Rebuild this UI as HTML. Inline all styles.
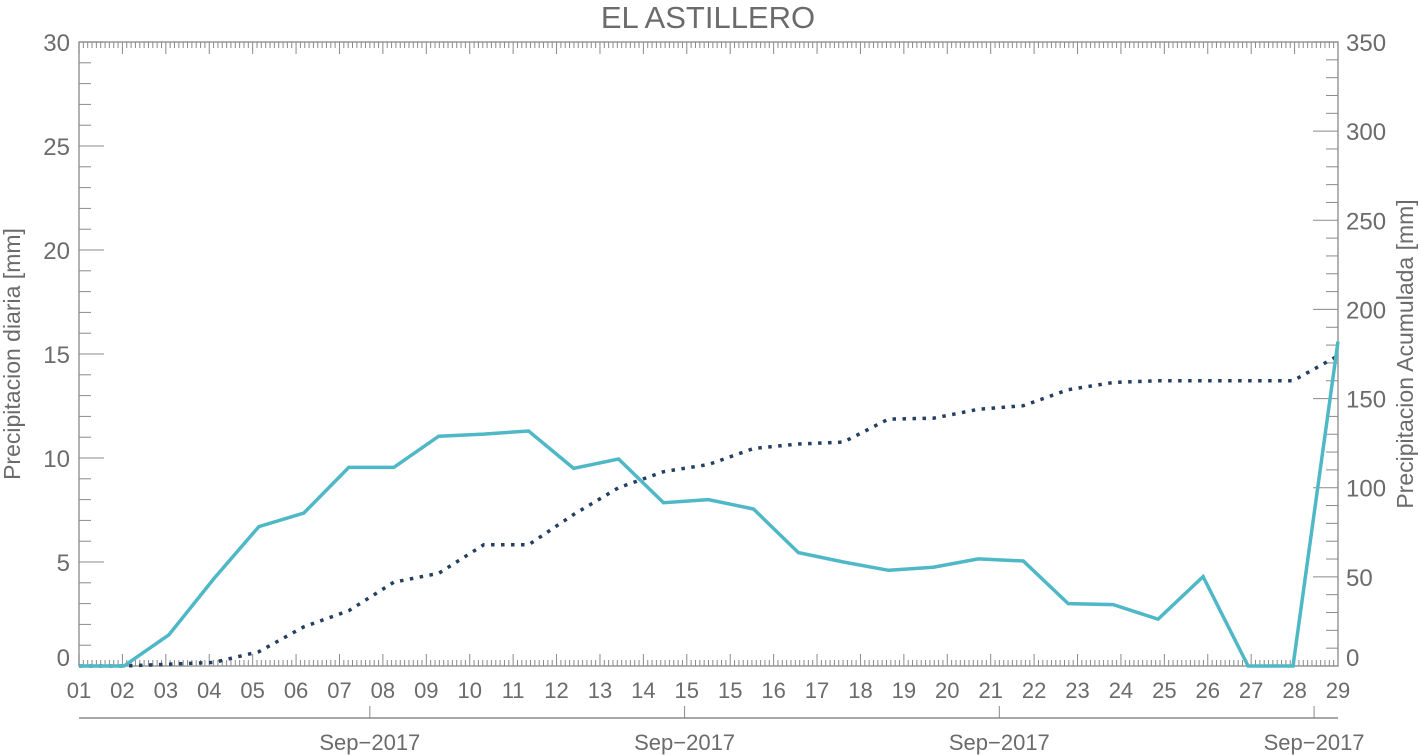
<!DOCTYPE html>
<html><head><meta charset="utf-8"><style>
body{margin:0;background:#fff;}
svg{display:block;font-family:"Liberation Sans",sans-serif;}
</style></head><body>
<svg id="chart" width="1420" height="755" viewBox="0 0 1420 755" xmlns="http://www.w3.org/2000/svg">
<text x="708" y="28" text-anchor="middle" font-size="31" fill="#6b6b6b">EL ASTILLERO</text>
<g id="axes"></g>
<g id="series"></g>
<text transform="translate(20,354) rotate(-90)" text-anchor="middle" font-size="23" fill="#6b6b6b">Precipitacion diaria [mm]</text>
<text transform="translate(1413,354) rotate(-90)" text-anchor="middle" font-size="23" fill="#6b6b6b">Precipitacion Acumulada [mm]</text>
</svg>
<script>
const tickLabels=["01","02","03","04","05","06","07","08","09","10","11","12","13","14","15","15","16","17","18","19","20","21","22","23","24","25","26","27","28","29"];
const daily=[0,0,1.5,4.2,6.7,7.35,9.55,9.55,11.05,11.15,11.3,9.5,9.95,7.85,8.0,7.55,5.45,5.0,4.6,4.75,5.15,5.05,3.0,2.95,2.25,4.3,0,0,15.6];
const cumulative=[0,0,1,2,8,22,31,47,52,68,68,85,100,109,113,122,124.5,125.6,138.5,139,144,146,155,159,160,160,160,160,174];
const leftTicks=[0,5,10,15,20,25,30];
const rightTicks=[0,50,100,150,200,250,300,350];
const monthLabels=["Sep\u22122017","Sep\u22122017","Sep\u22122017","Sep\u22122017"];
const monthPos=[0.231,0.481,0.731,0.981];

const X0=79,X1=1338,Y0=666,Y1=42;
const yL=v=>Y0-(v/30)*(Y0-Y1);
const yR=v=>Y0-(v/350)*(Y0-Y1);
const xPt=i=>X0+i*(X1-X0)/(daily.length-1);
const xTick=i=>X0+i*(X1-X0)/(tickLabels.length-1);
const NS="http://www.w3.org/2000/svg";
const axes=document.getElementById('axes'),series=document.getElementById('series');
function mk(tag,attrs,parent){const e=document.createElementNS(NS,tag);for(const k in attrs)e.setAttribute(k,attrs[k]);parent.appendChild(e);return e;}
const C="#8a8a8a",T="#6b6b6b";
let frame=mk('rect',{x:X0,y:Y1,width:X1-X0,height:Y0-Y1,fill:'none',stroke:'#999','stroke-width':1.5},axes);


// x ticks
const nT=tickLabels.length-1;
for(let i=0;i<nT;i++){
  for(let j=0;j<10;j++){
    const x=xTick(i)+j*(xTick(1)-xTick(0))/10;
    const len=j===0?12:6;
    mk('line',{x1:x,y1:Y0,x2:x,y2:Y0-len,stroke:C,'stroke-width':1},axes);
    mk('line',{x1:x,y1:Y1,x2:x,y2:Y1+len,stroke:C,'stroke-width':1},axes);
  }
}
tickLabels.forEach((t,i)=>{
  const e=mk('text',{x:xTick(i),y:698,'text-anchor':'middle','font-size':22,fill:T},axes);
  e.textContent=t;
  
  
});
// left ticks
for(let v=0;v<=30;v++){
  const len=v%5===0?25:12;
  mk('line',{x1:X0,y1:yL(v),x2:X0+len,y2:yL(v),stroke:C,'stroke-width':1},axes);
}
leftTicks.forEach(v=>{
  const e=mk('text',{x:70,y:yL(v)+(v===0?0:9),'text-anchor':'end','font-size':24,fill:T},axes);
  e.textContent=v;
  
  
});
// right ticks
for(let v=0;v<=350;v+=10){
  const len=v%50===0?25:12;
  mk('line',{x1:X1,y1:yR(v),x2:X1-len,y2:yR(v),stroke:C,'stroke-width':1},axes);
}
rightTicks.forEach(v=>{
  const e=mk('text',{x:1346,y:yR(v)+(v===0?0:9),'text-anchor':'start','font-size':24,fill:T},axes);
  e.textContent=v;
  
  
});
// month axis
let ma=mk('line',{x1:X0,y1:718,x2:X1,y2:718,stroke:C,'stroke-width':1.5},axes);


monthPos.forEach((p,i)=>{
  const x=X0+p*(X1-X0);
  mk('line',{x1:x,y1:718,x2:x,y2:706,stroke:C,'stroke-width':1},axes);
  const e=mk('text',{x:x,y:750,'text-anchor':'middle','font-size':22,fill:T},axes);
  e.textContent=monthLabels[i];
  
  
});
// series
const pd=daily.map((v,i)=>(i?'L':'M')+xPt(i).toFixed(1)+','+yL(v).toFixed(1)).join(' ');
const pc=cumulative.map((v,i)=>(i?'L':'M')+xPt(i).toFixed(1)+','+yR(v).toFixed(1)).join(' ');
let lc=mk('path',{d:pc,fill:'none',stroke:'#243f60','stroke-width':3.5,'stroke-dasharray':'3.5,6.5'},series);


let ld=mk('path',{d:pd,fill:'none',stroke:'#4fb8c6','stroke-width':3.5,'stroke-linejoin':'miter'},series);


</script>
</body></html>
